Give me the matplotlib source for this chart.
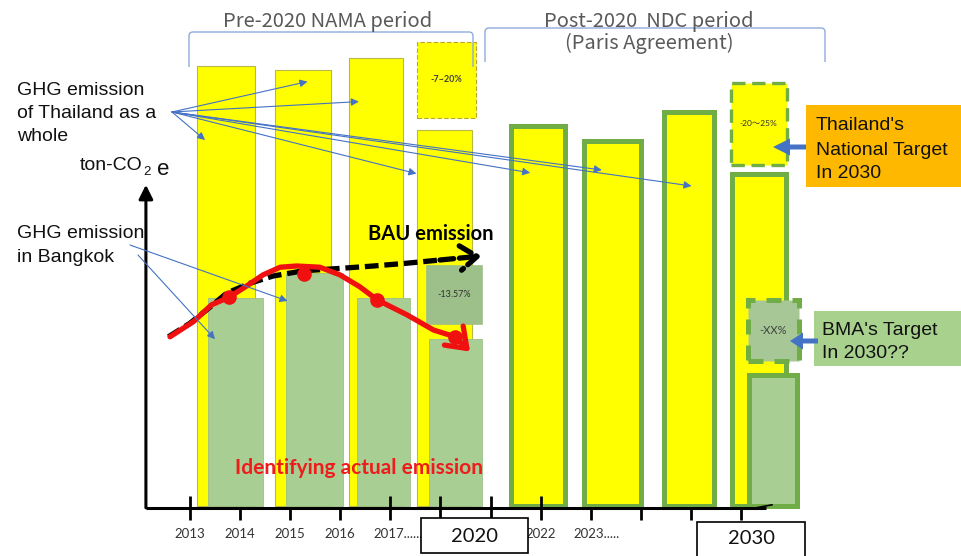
import matplotlib
matplotlib.use("Agg")
import matplotlib.pyplot as plt
from matplotlib.patches import Rectangle, PathPatch
from matplotlib.path import Path

# ---------------- emission data (index units, 0 = baseline) ----------------
thailand_pre = [110, 109, 112, 94]          # pre-2020 national emission
thailand_post = [95, 91.3, 98.5, 83]        # post-2020 national emission
bangkok_pre = [52, 58.3, 52, 41.7]          # Bangkok emission, pre-2020
bangkok_2030 = 32.7                         # Bangkok emission with target

# reduction ranges (low, high) and their labels
thai_cut_2020 = (96.9, 116.1)
bkk_cut_2020 = (45.5, 60.2)
thai_cut_2030 = (85.3, 105.7)
bkk_cut_2030 = (36.3, 51.6)
cut_labels = ["-7~20%", "-13.57%", "-20～25%", "-XX%"]

# BAU emission trend and actual emission path (x in timeline slots)
bau_x = [-0.43, 0.0, 0.33, 0.73, 1.20, 1.66, 2.26, 2.99, 3.66, 4.33, 4.99, 5.82]
bau_y = [42.3, 45.7, 49.0, 53.2, 55.7, 57.5, 58.8, 59.4, 60.0, 60.7, 61.5, 62.5]
actual_x = [-0.40, 0.07, 0.43, 0.78, 1.13, 1.46, 1.80, 2.13, 2.59, 2.99, 3.39,
            3.74, 4.33, 4.86, 5.29, 5.59]
actual_y = [42.3, 46.1, 50.3, 52.2, 55.0, 57.8, 59.7, 60.0, 59.7, 57.8, 54.8,
            51.5, 47.8, 44.0, 42.3, 38.6]
actual_pts_x = [0.78, 2.28, 3.74, 5.29]
actual_pts_y = [52.2, 57.9, 51.5, 42.3]

# timeline tick labels
year_labels = ["2013", "2014", "2015", "2016", "2017........", "2022", "2023....."]
year_ticks = [0, 1, 2, 3, 4, 7, 8]
boxed_years = ["2020", "2030"]

# ---------------- layout ----------------
n_ticks = 12
long_ticks = [0, 4, 5, 6, 7]
thai_pre_pos = [0.717, 2.253, 3.713, 5.086]
thai_pre_w = [1.164, 1.11, 1.066, 1.098]
bkk_pre_pos = [0.906, 2.485, 3.86, 5.297]
bkk_pre_w = [1.09, 1.15, 1.064, 1.05]
thai_post_pos = [6.94, 8.43, 9.96, 11.35]
thai_post_w = [1.078, 1.144, 1.0, 1.078]
bkk_2030_pos, bkk_2030_w = 11.64, 0.964
cut_pos = [5.12, 5.267, 11.35, 11.64]
cut_w = [1.166, 1.11, 1.118, 1.018]

YELLOW = "#FFFF00"
GREEN_EDGE = "#70AD47"
PALE_GREEN = "#A8CE94"
BLUE = "#4472C4"
RED = "#F01010"
W, H = 962, 556

fig = plt.figure(figsize=(W / 100, H / 100), dpi=100)
fig.patch.set_facecolor("white")

# main chart axes: x = timeline slot, y = emission index
ax = fig.add_axes([0, 0, 1, 1])
ax.set_xlim(-190 / 50.1, (W - 190) / 50.1)
ax.set_ylim(-12.5, 126.5)
ax.axis("off")

# Thailand pre-2020
ax.bar(thai_pre_pos, thailand_pre, width=thai_pre_w, color=YELLOW,
       edgecolor="#B8B84A", linewidth=0.8, zorder=1)
# Thailand post-2020
ax.bar(thai_post_pos, thailand_post, width=thai_post_w, color=YELLOW,
       edgecolor=GREEN_EDGE, linewidth=3.6, zorder=1)
# Bangkok pre-2020
ax.bar(bkk_pre_pos, bangkok_pre, width=bkk_pre_w, color=PALE_GREEN,
       edgecolor="#9DBF8A", linewidth=0.6, zorder=2)
# Bangkok 2030
ax.bar([bkk_2030_pos], [bangkok_2030], width=bkk_2030_w, color=PALE_GREEN,
       edgecolor=GREEN_EDGE, linewidth=3.6, zorder=2)

# reduction boxes
cut_ranges = [thai_cut_2020, bkk_cut_2020, thai_cut_2030, bkk_cut_2030]
cut_style = [
    dict(facecolor=YELLOW, edgecolor="#B9A52A", linewidth=0.8, linestyle=(0, (4, 2))),
    dict(facecolor="#9DC08B", edgecolor="#9DC08B", linewidth=0.5),
    dict(facecolor=YELLOW, edgecolor=GREEN_EDGE, linewidth=2.4, linestyle=(0, (4, 2))),
    dict(facecolor="#A7C796", edgecolor=GREEN_EDGE, linewidth=3.6, linestyle=(0, (3, 2.2))),
]
cut_text = [dict(fontsize=6.5, color="#404040", fontweight="bold"),
            dict(fontsize=6.5, color="#303030"),
            dict(fontsize=6, color="#303030"),
            dict(fontsize=8, color="#404040")]
for pos, w, (lo, hi), st, lab, ts in zip(cut_pos, cut_w, cut_ranges, cut_style,
                                         cut_labels, cut_text):
    ax.bar([pos], [hi - lo], bottom=[lo], width=w, zorder=2, **st)
    ax.text(pos, (lo + hi) / 2, lab, ha="center", va="center", zorder=6,
            family=["Lato", "Noto Sans CJK JP"], **ts)

# axes lines with arrows
ax.annotate("", xy=(-0.88, 80.3), xytext=(-0.88, -0.45),
            arrowprops=dict(arrowstyle="-|>,head_length=0.6,head_width=0.3",
                            lw=2.2, color="black", mutation_scale=14,
                            shrinkA=0, shrinkB=0), zorder=4)
ax.plot([-0.88, 11.5], [-0.45, -0.45], color="black", lw=2.2, zorder=4,
        solid_capstyle="butt")
ax.annotate("", xy=(11.62, 0.3), xytext=(11.3, -0.45),
            arrowprops=dict(arrowstyle="-", lw=1.2, color="black",
                            shrinkA=0, shrinkB=0), zorder=4)
for i in range(n_ticks):
    top = 2.5 if i in long_ticks else -0.45
    ax.plot([i, i], [-3.5, top], color="black", lw=2.0, zorder=4,
            solid_capstyle="butt")
for lab, t in zip(year_labels, year_ticks):
    if lab.endswith("."):
        ax.text(t - 0.34, -7.0, lab, ha="left", va="center", fontsize=9.5,
                family="Lato", color="#333333")
    else:
        ax.text(t, -7.0, lab, ha="center", va="center", fontsize=9.5,
                family="Lato", color="#333333")

# BAU emission (dashed, with chevron head)
ax.plot(bau_x[:-1], bau_y[:-1], color="black", lw=3.8, dashes=(2.6, 1.1),
        zorder=5, solid_capstyle="butt")
ax.annotate("", xy=(bau_x[-1], bau_y[-1]),
            xytext=(bau_x[-2], bau_y[-2]),
            arrowprops=dict(arrowstyle="->,head_length=0.55,head_width=0.4",
                            lw=3.8, color="black", mutation_scale=22,
                            shrinkA=0, shrinkB=0, linestyle=(0, (2.6, 1.1))),
            zorder=5)

# actual emission path
ax.plot(actual_x[:-1], actual_y[:-1], color=RED, lw=3.8, zorder=5,
        solid_joinstyle="round", solid_capstyle="round")
ax.annotate("", xy=(actual_x[-1], actual_y[-1]),
            xytext=(actual_x[-2], actual_y[-2]),
            arrowprops=dict(arrowstyle="->,head_length=0.55,head_width=0.4",
                            lw=3.8, color=RED, mutation_scale=24,
                            shrinkA=0, shrinkB=0), zorder=5)
ax.plot(actual_pts_x, actual_pts_y, "o", color=RED, markersize=9.5, zorder=6)

# ---------------- annotation layer in figure pixels ----------------
ov = fig.add_axes([0, 0, 1, 1])
ov.set_xlim(0, W)
ov.set_ylim(H, 0)
ov.axis("off")
ov.patch.set_alpha(0)


def bracket(x0, x1, y_top, y_bot, r=4):
    verts = [(x0, y_bot), (x0, y_top + r), (x0, y_top), (x0 + r, y_top),
             (x1 - r, y_top), (x1, y_top), (x1, y_top + r), (x1, y_bot)]
    codes = [Path.MOVETO, Path.LINETO, Path.CURVE3, Path.CURVE3,
             Path.LINETO, Path.CURVE3, Path.CURVE3, Path.LINETO]
    ov.add_patch(PathPatch(Path(verts, codes), fill=False, edgecolor="#8FAADC",
                           lw=1.0))


bracket(189, 473, 32, 67)
bracket(485, 825, 28, 62)
title_kw = dict(family=["Noto Sans CJK JP", "DejaVu Sans"], fontsize=14.5,
                color="#595959", ha="center", va="baseline")
ov.text(328, 26.5, "Pre-2020 NAMA period", **title_kw)
ov.text(649, 27, "Post-2020  NDC period", **title_kw)
ov.text(649, 48.5, "(Paris Agreement)", **title_kw)

lab_kw = dict(family="Liberation Sans", fontsize=14, color="#111111",
              ha="left", va="baseline")
ov.text(17, 95, "GHG emission", **lab_kw)
ov.text(17, 118.5, "of Thailand as a", **lab_kw)
ov.text(17, 141, "whole", **lab_kw)
ov.text(17, 237.5, "GHG emission", **lab_kw)
ov.text(17, 262, "in Bangkok", **lab_kw)
ov.text(80, 170, "ton-CO", **lab_kw)
ov.text(143, 175, "2", family="Liberation Sans", fontsize=9.5, color="#111111",
        ha="left", va="baseline")
ov.text(157, 175, "e", family="Liberation Sans", fontsize=16, color="#111111",
        ha="left", va="baseline")

ov.text(368, 240, "BAU emission", family="Lato", fontweight="bold",
        fontsize=14.5, color="black", ha="left", va="baseline")
ov.text(235, 474, "Identifying actual emission", family="Lato",
        fontweight="bold", fontsize=15, color="#EE1C1C", ha="left",
        va="baseline")

# pointer arrows from the labels
thai_targets = [(0.30, 91.5), (2.345, 106.1), (3.37, 101.1), (4.52, 83.1),
                (6.79, 83.3), (8.22, 84.0), (10.01, 80.0)]
for tx, ty in thai_targets:
    ov.annotate("", xy=(tx, ty), xycoords=ax.transData, xytext=(172, 112),
                textcoords=ov.transData,
                arrowprops=dict(arrowstyle="-|>,head_length=0.5,head_width=0.25",
                                color=BLUE, lw=0.8, mutation_scale=9,
                                shrinkA=0, shrinkB=0))
for (sx, sy), (tx, ty) in [((130, 245), (1.946, 51.25)),
                           ((138, 255), (0.499, 41.7))]:
    ov.annotate("", xy=(tx, ty), xycoords=ax.transData, xytext=(sx, sy),
                textcoords=ov.transData,
                arrowprops=dict(arrowstyle="-|>,head_length=0.5,head_width=0.25",
                                color=BLUE, lw=0.8, mutation_scale=9,
                                shrinkA=0, shrinkB=0))

# target call-outs
ov.add_patch(Rectangle((806, 105), W - 806, 82, facecolor="#FFB800",
                       edgecolor="none"))
for y, s in [(130, "Thailand's"), (155, "National Target"), (178.5, "In 2030")]:
    ov.text(816, y, s, **lab_kw)
ov.arrow(806, 147, -33, 0, width=5, head_width=17, head_length=17,
         length_includes_head=True, color=BLUE, lw=0)

ov.add_patch(Rectangle((814, 311), W - 814, 55, facecolor="#A9D18E",
                       edgecolor="none"))
for y, s in [(335, "BMA's Target"), (358.5, "In 2030??")]:
    ov.text(822, y, s, **lab_kw)
ov.arrow(818, 341, -28, 0, width=5, head_width=17, head_length=13,
         length_includes_head=True, color=BLUE, lw=0)

# boxed milestone years
for (x0, y0, w, h), s, (cx, cy) in zip(
        [(420.7, 518.3, 107.6, 34.7), (696.7, 521.7, 108.3, 40)],
        boxed_years, [(474.5, 537), (752, 539)]):
    ov.add_patch(Rectangle((x0, y0), w, h, facecolor="white",
                           edgecolor="black", lw=1.2))
    ov.text(cx, cy, s, family="Lato", fontsize=14.5, color="#111111",
            ha="center", va="center")

fig.savefig("out.png", dpi=100)
